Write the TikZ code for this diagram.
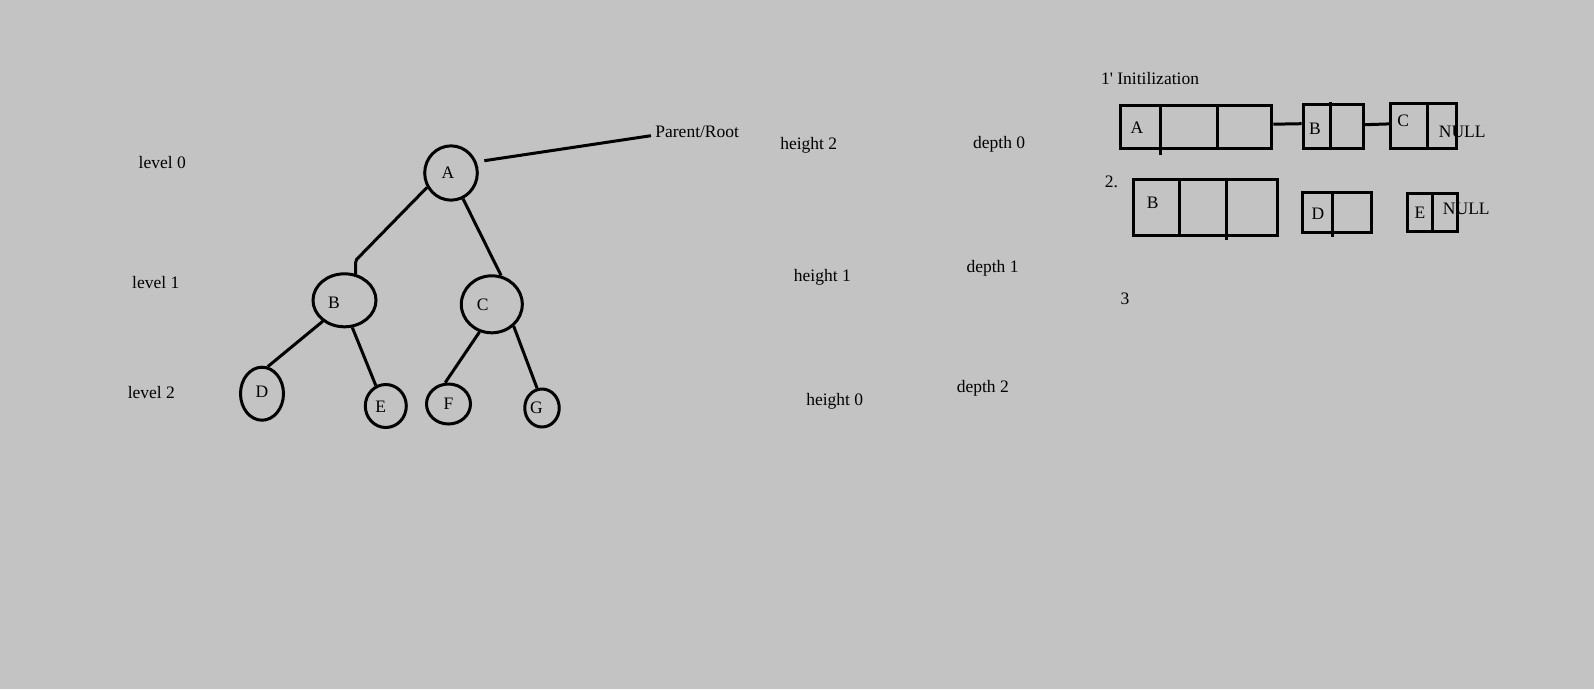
\documentclass[tikz,border=0pt]{standalone}
\usepackage{fontspec}
\setmainfont{Liberation Serif}[Ligatures=TeXOff]
\usetikzlibrary{shapes.geometric}
\definecolor{paintgray}{RGB}{195,195,195}

\begin{document}
\begin{tikzpicture}[x=1pt, y=-1pt, line width=3pt,
    every node/.style={font=\fontsize{17.5}{20}\selectfont, inner sep=0pt},
    treenode/.style={ellipse, draw, line width=3pt},
    cellbox/.style={rectangle, draw, line width=3pt}]
	% Hintergrund
	\fill[paintgray] (0,0) rectangle (1594,689);
	
	% Baum
	\node[treenode, minimum width=52.6, minimum height=54.3,
	      label={[xshift=-3pt]center:A}] (nA) at (451,173) {};
	\node[treenode, minimum width=63, minimum height=53,
	      label={[xshift=-10.5pt, yshift=-2.5pt]center:B}] (nB) at (344.5,300.3) {};
	\node[treenode, minimum width=61, minimum height=57,
	      label={[xshift=-9pt, yshift=-0.5pt]center:C}] (nC) at (491.8,304.3) {};
	\node[treenode, minimum width=43, minimum height=53,
	      label={[yshift=2pt]center:D}] (nD) at (262,393.7) {};
	\node[treenode, minimum width=41, minimum height=43,
	      label={[xshift=-5pt, yshift=-1pt]center:E}] (nE) at (385.8,406) {};
	\node[treenode, minimum width=44, minimum height=40,
	      label={center:F}] (nF) at (448.5,404) {};
	\node[treenode, minimum width=34.5, minimum height=38,
	      label={[xshift=-5.5pt]center:G}] (nG) at (542,408) {};
	
	% Kanten
	\coordinate (kinkAB) at (356.7,259.3);
	\coordinate (bendAB) at (355.5,263);
	\draw (nA.211) -- (kinkAB) -- (bendAB) -- (nB.67);
	\draw (nA.-65) -- (nC.72);
	\draw (nB.224) -- (nD.78);
	\draw (nB.-74) -- (nE.116);
	\draw (nC.-114) -- (nF.99);
	\draw (nC.-45) -- (nG.104);
	
	% Ebenen
	\node (lvl0) at (162.3,162.3) {level 0};
	\node (lvl1) at (155.7,282.3) {level 1};
	\node (lvl2) at (151.4,392.3) {level 2};
	
	% Wurzel
	\node (parent) at (697.2,131.7) {Parent/Root};
	\coordinate (rootTip) at (484.3,160.7);
	\draw (rootTip) -- ([xshift=-3pt, yshift=-4pt]parent.west);
	
	% Hoehe und Tiefe
	\node (h2) at (808.7,145) {height 2};
	\node (h1) at (822.3,277.7) {height 1};
	\node (h0) at (834.7,401) {height 0};
	\node (d0) at (999.2,144) {depth 0};
	\node (d1) at (992.5,268.3) {depth 1};
	\node (d2) at (982.8,388.3) {depth 2};
	
	% Listen, Schritt 1
	\node (step1) at (1150,79) {1' Initilization};
	\node[cellbox, minimum width=151, minimum height=42.7] (lA) at (1196.3,127.2) {};
	\node[cellbox, minimum width=60.3, minimum height=43.7] (lB) at (1333.3,126.7) {};
	\node[cellbox, minimum width=66, minimum height=45.3] (lC) at (1423.8,125.9) {};
	\draw (1160.3,106) -- (1160.3,154.7);
	\draw (1217.3,106) -- (1217.3,148.5);
	\draw (1330,102) -- (1330,148.5);
	\draw (1427.7,103.2) -- (1427.7,148.5);
	\draw ([yshift=3pt]lA.east) -- ([yshift=3pt]lB.west);
	\draw ([yshift=2pt]lB.east) -- ([yshift=2pt]lC.west);
	\node (tA) at (1137,128) {A};
	\node (tB) at (1315,128.3) {B};
	\node (tC) at (1403.3,120.7) {C};
	\node (null1) at (1462.2,132.3) {NULL};
	
	% Listen, Schritt 2
	\node (step2) at (1111.5,181.7) {2.};
	\node[cellbox, minimum width=143.7, minimum height=56] (mB) at (1205.7,207.8) {};
	\node[cellbox, minimum width=69, minimum height=40.6] (mD) at (1336.7,212.5) {};
	\node[cellbox, minimum width=50.6, minimum height=38.6] (mE) at (1432.5,212.5) {};
	\draw (1179.7,180) -- (1179.7,235.8);
	\draw (1226.7,180) -- (1226.7,240);
	\draw (1332.3,192.2) -- (1332.3,236.7);
	\draw (1432,193.2) -- (1432,231.8);
	\node (uB) at (1152.7,202.3) {B};
	\node (uD) at (1318,214) {D};
	\node (uE) at (1420,212.7) {E};
	\node (null2) at (1466.3,209) {NULL};
	
	% Schritt 3
	\node (step3) at (1125,298.3) {3};
\end{tikzpicture}
\end{document}
